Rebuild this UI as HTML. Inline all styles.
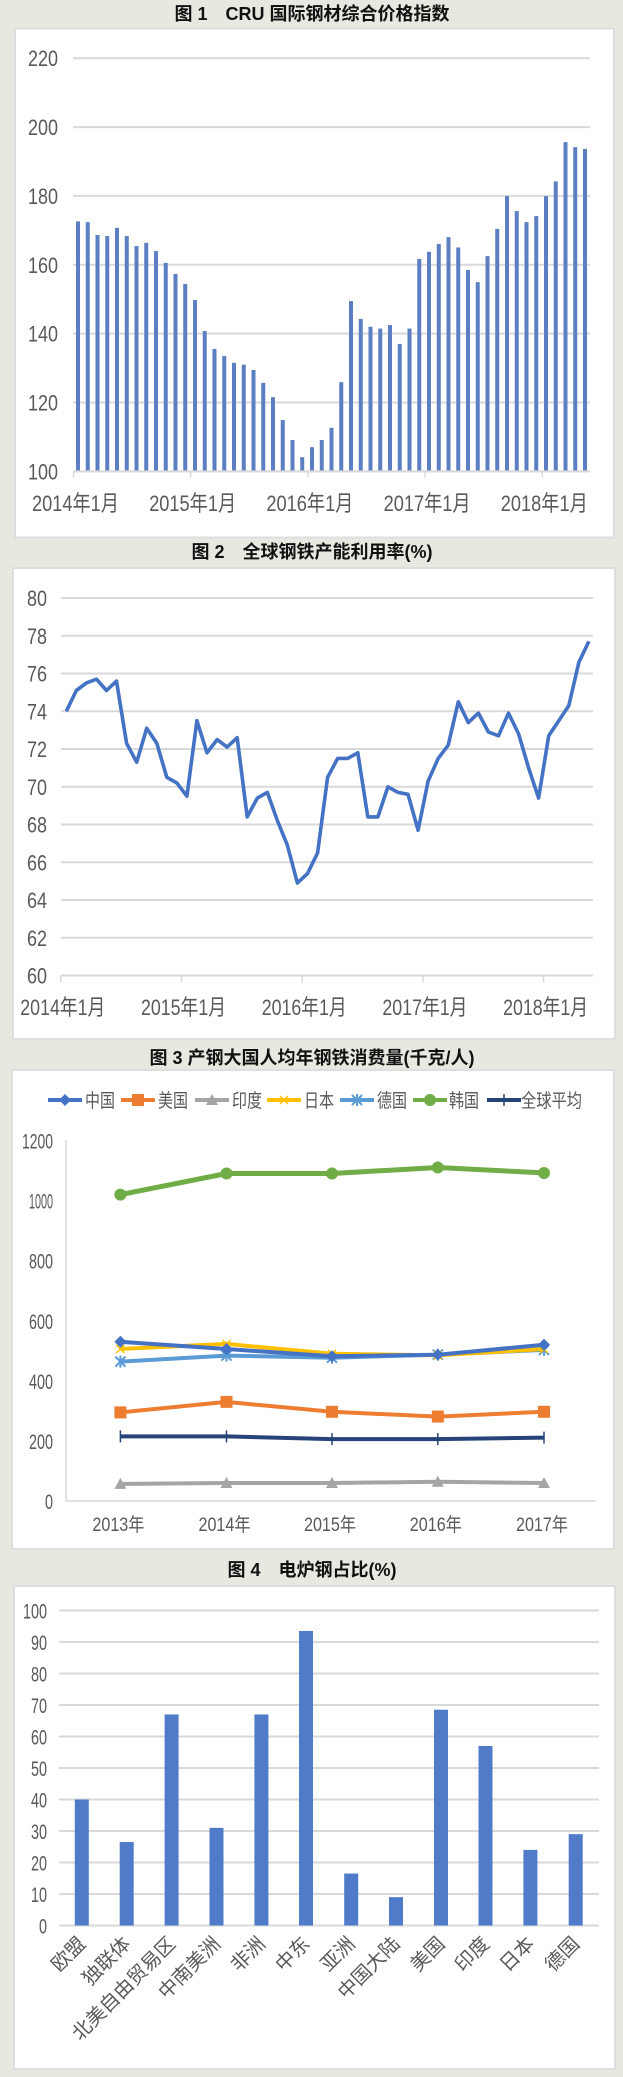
<!DOCTYPE html>
<html><head><meta charset="utf-8">
<style>
html,body{margin:0;padding:0;background:#e8e8e0;}
svg{display:block;}
text{font-family:"Liberation Sans","Noto Sans CJK SC",sans-serif;}
.t{font-weight:bold;font-size:18px;fill:#111;}
.ax{font-size:22px;fill:#595959;}
.lg{font-size:17px;fill:#595959;}
</style></head>
<body>
<svg id="s" width="623" height="2077" xmlns="http://www.w3.org/2000/svg">
<rect x="0" y="0" width="623" height="2077" fill="#e8e8e0"/>
<rect x="15" y="28.5" width="599" height="509" fill="#fff" stroke="#dedede" stroke-width="2"/>
<rect x="13" y="568" width="602" height="471" fill="#fff" stroke="#dedede" stroke-width="2"/>
<rect x="12" y="1070" width="602" height="479" fill="#fff" stroke="#dedede" stroke-width="2"/>
<rect x="14" y="1586" width="601" height="483" fill="#fff" stroke="#dedede" stroke-width="2"/>
<text class="t" x="312" y="20" text-anchor="middle">图 1　CRU 国际钢材综合价格指数</text>
<text class="t" x="312" y="558" text-anchor="middle">图 2　全球钢铁产能利用率(%)</text>
<text class="t" x="312" y="1064" text-anchor="middle">图 3  产钢大国人均年钢铁消费量(千克/人)</text>
<text class="t" x="312" y="1576" text-anchor="middle">图 4　电炉钢占比(%)</text>
<g id="g"></g>
</svg>
<script>
var g=document.getElementById('g');var NS='http://www.w3.org/2000/svg';
function el(n,a,txt){var e=document.createElementNS(NS,n);for(var k in a)e.setAttribute(k,a[k]);if(txt!==undefined)e.textContent=txt;g.appendChild(e);return e;}
function grid(x1,x2,y){el('line',{x1:x1,x2:x2,y1:y,y2:y,stroke:'#d9d9d9','stroke-width':2});}
// Chart 1
var top1=58.2,bot1=471.4;
for(var i=0;i<=6;i++){var y=top1+i*(bot1-top1)/6;grid(73,590,y);
 el('text',{x:58,y:y+8,'class':'ax','text-anchor':'end',textLength:30,lengthAdjust:'spacingAndGlyphs'},String(220-20*i));}
var tops=[620,622,658,661,638,661,689,680,703,736,767,795,840,927,977,997,1016,1021,1036,1072,1112,1176,1232,1280,1252,1232,1198,1070,843,893,915,920,910,963,920,725,705,683,664,693,756,790,717,641,549,591,622,605,549,508,398,412,417];
for(var i=0;i<tops.length;i++){var x=78+i*9.75;var yt=tops[i]/2.8;el('rect',{x:x-2,y:yt,width:4,height:bot1-yt,fill:'#5b7fc0'});}
el('line',{x1:73,x2:590,y1:bot1,y2:bot1,stroke:'#d9d9d9','stroke-width':2});
var lab=['2014年1月','2015年1月','2016年1月','2017年1月','2018年1月'];
for(var i=0;i<5;i++){var x=73.5+i*117.2;el('line',{x1:x,x2:x,y1:bot1,y2:bot1+6,stroke:'#d9d9d9','stroke-width':1.5});
 el('text',{x:x+2,y:511,'class':'ax','text-anchor':'middle',textLength:87,lengthAdjust:'spacingAndGlyphs'},lab[i]);}
// Chart 2
var top2=598,bot2=975.5;
for(var i=0;i<=10;i++){var y=top2+i*(bot2-top2)/10;grid(61,593,y);
 el('text',{x:47,y:y+8,'class':'ax','text-anchor':'end',textLength:20,lengthAdjust:'spacingAndGlyphs'},String(80-2*i));}
var v2=[74.0,75.1,75.5,75.7,75.1,75.6,72.3,71.3,73.1,72.3,70.5,70.2,69.5,73.5,71.8,72.5,72.1,72.6,68.4,69.4,69.7,68.2,66.9,64.9,65.4,66.5,70.5,71.5,71.5,71.8,68.4,68.4,70.0,69.7,69.6,67.7,70.3,71.5,72.2,74.5,73.4,73.9,72.9,72.7,73.9,72.8,71.0,69.4,72.7,73.5,74.3,76.6,77.7];
var pts=v2.map(function(v,i){return (66.3+i*10.05).toFixed(1)+','+(bot2-(v-60)*(bot2-top2)/20).toFixed(1);}).join(' ');
el('polyline',{points:pts,fill:'none',stroke:'#4472c4','stroke-width':3.6,'stroke-linejoin':'round'});
for(var i=0;i<5;i++){var x=60.8+i*120.7;el('line',{x1:x,x2:x,y1:bot2,y2:bot2+7,stroke:'#d9d9d9','stroke-width':1.5});
 el('text',{x:x+2,y:1015,'class':'ax','text-anchor':'middle',textLength:85,lengthAdjust:'spacingAndGlyphs'},lab[i]);}
// Chart 3
var top3=1140.5,bot3=1501;
for(var i=0;i<=6;i++){var y=top3+i*(bot3-top3)/6;
 el('text',{x:53,y:y+8,'class':'ax','text-anchor':'end',textLength:(i==6?8:i==0?31:24),lengthAdjust:'spacingAndGlyphs',style:'font-size:21px'},String(1200-200*i));}
el('line',{x1:66,x2:66,y1:1140,y2:bot3,stroke:'#d9d9d9','stroke-width':1.5});
el('line',{x1:66,x2:596,y1:bot3,y2:bot3,stroke:'#d9d9d9','stroke-width':1.5});
var cx=[120.4,226.5,332,437.8,544];
var yrs=['2013年','2014年','2015年','2016年','2017年'];
for(var i=0;i<5;i++)el('text',{x:cx[i]-2,y:1531,'class':'lg','text-anchor':'middle',textLength:52,lengthAdjust:'spacingAndGlyphs',style:'font-size:19px'},yrs[i]);
function Y3(v){return bot3-v*(bot3-top3)/1200;}
var S=[
 {n:'印度',c:'#a5a5a5',d:[57,60,60,64,60],m:'tri',w:4},
 {n:'全球平均',c:'#264478',d:[215,215,206,206,211],m:'plus',w:4},
 {n:'美国',c:'#ed7d31',d:[295,330,297,281,297],m:'sq',w:4},
 {n:'德国',c:'#5b9bd5',d:[464,484,477,487,503],m:'star',w:4},
 {n:'日本',c:'#ffc000',d:[506,523,490,485,506],m:'x',w:4},
 {n:'中国',c:'#4472c4',d:[530,506,482,487,520],m:'dia',w:4},
 {n:'韩国',c:'#70ad47',d:[1020,1090,1090,1110,1092],m:'circ',w:5}];
function mk(m,x,y,c){
 if(m=='dia')el('path',{d:'M'+x+','+(y-6)+'L'+(x+6)+','+y+'L'+x+','+(y+6)+'L'+(x-6)+','+y+'Z',fill:c});
 else if(m=='sq')el('rect',{x:x-6,y:y-6,width:12,height:12,fill:c});
 else if(m=='tri')el('path',{d:'M'+x+','+(y-6)+'L'+(x+6)+','+(y+5)+'L'+(x-6)+','+(y+5)+'Z',fill:c});
 else if(m=='circ')el('circle',{cx:x,cy:y,r:6,fill:c});
 else if(m=='x')el('path',{d:'M'+(x-4)+','+(y-4)+'L'+(x+4)+','+(y+4)+'M'+(x+4)+','+(y-4)+'L'+(x-4)+','+(y+4),stroke:c,'stroke-width':1.5});
 else if(m=='star')el('path',{d:'M'+(x-5)+','+(y-5)+'L'+(x+5)+','+(y+5)+'M'+(x+5)+','+(y-5)+'L'+(x-5)+','+(y+5)+'M'+x+','+(y-6)+'L'+x+','+(y+6),stroke:c,'stroke-width':2});
 else if(m=='plus')el('path',{d:'M'+x+','+(y-6)+'L'+x+','+(y+6),stroke:c,'stroke-width':1.5});
}
S.forEach(function(s){var p=s.d.map(function(v,i){return cx[i]+','+Y3(v).toFixed(1);}).join(' ');
 el('polyline',{points:p,fill:'none',stroke:s.c,'stroke-width':s.w,'stroke-linejoin':'round'});
 s.d.forEach(function(v,i){mk(s.m,cx[i],Y3(v),s.c);});});
var L=[['中国','#4472c4','dia',48,85,30],['美国','#ed7d31','sq',121,158,30],['印度','#a5a5a5','tri',195,232,30],['日本','#ffc000','x',267,304,30],['德国','#5b9bd5','star',340,377,30],['韩国','#70ad47','circ',413,449,30],['全球平均','#264478','plus',487,521,61]];
L.forEach(function(l){el('line',{x1:l[3],x2:l[3]+34,y1:1100,y2:1100,stroke:l[1],'stroke-width':4});mk(l[2],l[3]+17,1100,l[1]);
 el('text',{x:l[4],y:1107,'class':'lg',textLength:l[5],lengthAdjust:'spacingAndGlyphs',style:'font-size:19px'},l[0]);});
// Chart 4
var top4=1610.5,bot4=1925.5;
for(var i=0;i<=10;i++){var y=top4+i*(bot4-top4)/10;grid(59,599,y);
 el('text',{x:47,y:y+8,'class':'ax','text-anchor':'end',textLength:(i==10?8:i==0?24:16),lengthAdjust:'spacingAndGlyphs',style:'font-size:21px'},String(100-10*i));}
var bx=[81.8,126.7,171.6,216.5,261.4,306,351.2,396,441,485.5,530.4,575.7];
var bv=[40,26.5,67,31,67,93.5,16.5,9,68.5,57,24,29];
var bn=['欧盟','独联体','北美自由贸易区','中南美洲','非洲','中东','亚洲','中国大陆','美国','印度','日本','德国'];
for(var i=0;i<12;i++){var h=bv[i]*(bot4-top4)/100;el('rect',{x:bx[i]-7,y:bot4-h,width:14,height:h,fill:'#4f7bc9'});
 var tx=bx[i]+5,ty=1945;el('text',{x:tx,y:ty,'class':'lg','text-anchor':'end',transform:'rotate(-45 '+tx+' '+ty+')',style:'font-size:19.5px'},bn[i]);}
</script>
</body></html>
